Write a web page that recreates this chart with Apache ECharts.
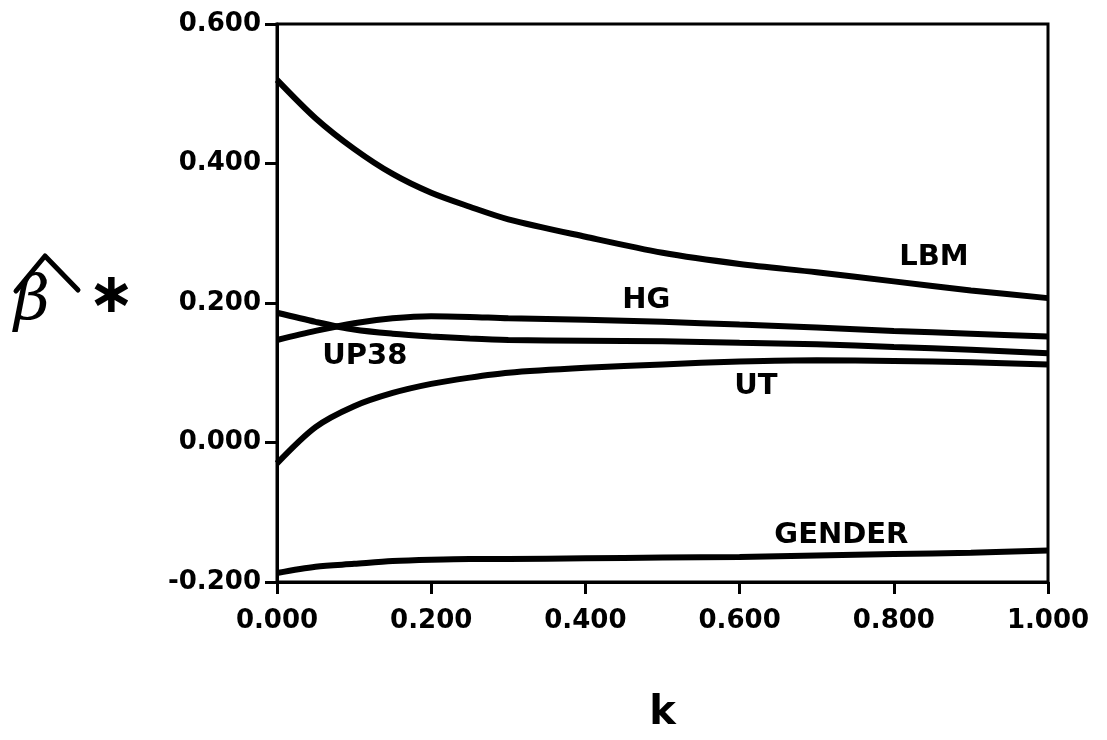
<!DOCTYPE html>
<html>
<head>
<meta charset="utf-8">
<script src="https://cdn.jsdelivr.net/npm/echarts@6/dist/echarts.min.js"></script>
<style>
  html, body { margin: 0; padding: 0; background: #fff; }
  #main { width: 1107px; height: 740px; }
</style>
</head>
<body>
<div id="main"></div>
<script>
// ridge trace: k values
const kValues = [0, 0.05, 0.1, 0.15, 0.2, 0.25, 0.3, 0.4, 0.5, 0.6, 0.7, 0.8, 0.9, 1.0];
// standardized coefficients
const lbm    = [0.520, 0.465, 0.421, 0.385, 0.358, 0.338, 0.320, 0.295, 0.272, 0.256, 0.244, 0.231, 0.218, 0.207];
const hg     = [0.147, 0.160, 0.171, 0.178, 0.181, 0.180, 0.178, 0.176, 0.173, 0.169, 0.165, 0.160, 0.156, 0.152];
const up38   = [0.186, 0.173, 0.162, 0.156, 0.152, 0.149, 0.147, 0.146, 0.145, 0.143, 0.141, 0.137, 0.133, 0.128];
const ut     = [-0.030, 0.022, 0.052, 0.071, 0.084, 0.093, 0.100, 0.107, 0.112, 0.116, 0.118, 0.117, 0.115, 0.112];
const gender = [-0.187, -0.178, -0.174, -0.170, -0.168, -0.167, -0.167, -0.166, -0.165, -0.164, -0.162, -0.160, -0.158, -0.155];

const seriesNames = ['LBM', 'HG', 'UP38', 'UT', 'GENDER'];
const seriesData = [lbm, hg, up38, ut, gender];
// where each curve's name sits (k, beta)
const labelAt = [[0.852, 0.265], [0.479, 0.203], [0.114, 0.124], [0.621, 0.081], [0.732, -0.134]];

const yTicks = [-0.2, 0, 0.2, 0.4, 0.6];
const xTicks = [0, 0.2, 0.4, 0.6, 0.8, 1.0];

const font = 'DejaVu Sans';

const chart = echarts.init(document.getElementById('main'));

const series = seriesNames.map((name, i) => ({
  name: name,
  type: 'line',
  smooth: 0.3,
  showSymbol: false,
  lineStyle: { color: '#000', width: 6 },
  data: kValues.map((k, j) => [k, seriesData[i][j]]),
  markPoint: {
    symbol: 'circle',
    symbolSize: 1,
    itemStyle: { color: 'rgba(0,0,0,0)' },
    label: {
      show: true,
      position: 'inside',
      formatter: name,
      color: '#000',
      fontFamily: font,
      fontWeight: 'bold',
      fontSize: 29
    },
    data: [{ coord: labelAt[i] }]
  }
}));

chart.setOption({
  animation: false,
  backgroundColor: '#fff',
  grid: {
    left: 277,
    right: 59,
    top: 24,
    bottom: 158,
    show: true,
    borderColor: '#000',
    borderWidth: 3
  },
  xAxis: {
    type: 'value',
    min: xTicks[0],
    max: xTicks[xTicks.length - 1],
    interval: 0.2,
    name: 'k',
    nameLocation: 'middle',
    nameGap: 112,
    nameTextStyle: { color: '#000', fontFamily: font, fontWeight: 'bold', fontSize: 40 },
    axisLine: { onZero: false, lineStyle: { color: '#000', width: 3 } },
    axisTick: { inside: false, length: 12, lineStyle: { color: '#000', width: 3 } },
    axisLabel: {
      margin: 26,
      color: '#000',
      fontFamily: font,
      fontWeight: 'bold',
      fontSize: 26,
      formatter: v => v.toFixed(3)
    },
    splitLine: { show: false }
  },
  yAxis: {
    type: 'value',
    min: yTicks[0],
    max: yTicks[yTicks.length - 1],
    interval: 0.2,
    axisLine: { show: true, onZero: false, lineStyle: { color: '#000', width: 3 } },
    axisTick: { show: true, length: 12, lineStyle: { color: '#000', width: 3 } },
    axisLabel: {
      margin: 16,
      color: '#000',
      fontFamily: font,
      fontWeight: 'bold',
      fontSize: 26,
      formatter: v => v.toFixed(3)
    },
    splitLine: { show: false }
  },
  graphic: [
    // beta-hat star axis title
    {
      type: 'text',
      left: 14,
      top: 272,
      style: { text: 'β', fill: '#000', font: 'italic 62px "DejaVu Serif"' }
    },
    {
      type: 'polyline',
      shape: { points: [[16, 291], [45, 256], [78, 290]] },
      style: { stroke: '#000', lineWidth: 5, fill: null, lineCap: 'round', lineJoin: 'round' }
    },
    {
      type: 'text',
      left: 88,
      top: 269,
      style: { text: '∗', fill: '#000', font: 'bold 56px "DejaVu Sans"' }
    }
  ],
  series: series
});
</script>
</body>
</html>
